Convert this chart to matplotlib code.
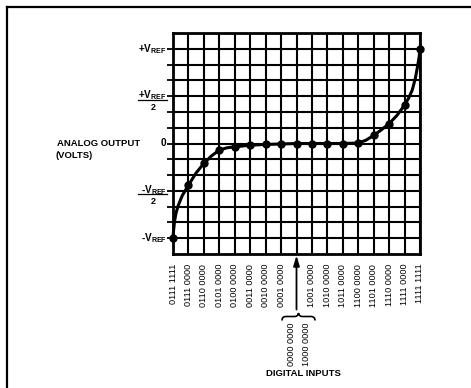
import matplotlib
matplotlib.use("Agg")
import matplotlib.pyplot as plt
from matplotlib.path import Path
from matplotlib.patches import PathPatch
import numpy as np

plt.rcParams['font.family'] = ['Liberation Sans', 'DejaVu Sans']
plt.rcParams['mathtext.fontset'] = 'custom'
plt.rcParams['mathtext.rm'] = 'Liberation Sans:bold'
plt.rcParams['mathtext.it'] = 'Liberation Sans:bold'
plt.rcParams['mathtext.bf'] = 'Liberation Sans:bold'
plt.rcParams['mathtext.default'] = 'bf'

# ---- data ----
codes = ["0111 1111", "0111 0000", "0110 0000", "0101 0000", "0100 0000",
         "0011 0000", "0010 0000", "0001 0000", "", "1001 0000", "1010 0000",
         "1011 0000", "1100 0000", "1101 0000", "1110 0000", "1111 0000", "1111 1111"]
marker_y = [-1.0, -0.44, -0.21, -0.07, -0.035, -0.018, -0.01, -0.005, 0.0,
            0.0, 0.0, 0.0, 0.005, 0.085, 0.21, 0.405, 1.0]
curve_x = [0, 0.03, 0.1, 0.2, 0.35, 0.6, 1, 1.5, 2, 2.5, 3, 3.5, 4, 5, 6, 7, 8,
           9, 10, 11, 12, 12.5, 13, 13.5, 14, 14.5, 15, 15.25, 15.5, 15.7, 15.85, 15.95, 16]
curve_y = [-1.0, -0.93, -0.82, -0.73, -0.65, -0.55, -0.44, -0.31, -0.21, -0.13,
           -0.07, -0.045, -0.035, -0.018, -0.01, -0.005, 0.0, 0.0, 0.0, 0.0, 0.005,
           0.035, 0.085, 0.145, 0.21, 0.295, 0.405, 0.475, 0.565, 0.69, 0.82, 0.92, 1.0]
y_ticks = [-1.0, -0.5, 0.0, 0.5, 1.0]
y_labels = [r"-V$_{REF}$", r"-V$_{REF}$", "0", r"+V$_{REF}$", r"+V$_{REF}$"]
y_denoms = ["", "2", "", "2", ""]
below_codes = ["0000 0000", "1000 0000"]

W, H = 471, 388
fig = plt.figure(figsize=(W / 100, H / 100), dpi=100)
fig.patch.set_facecolor('white')

L, R, T, B = 173, 420, 33, 254
ax = fig.add_axes([L / W, 1 - B / H, (R - L) / W, (B - T) / H])
n = len(codes)
ax.set_xlim(0, n - 1)
ax.set_ylim(-7 / 6, 7 / 6)

ax.set_xticks(range(n))
ax.set_xticklabels(codes, rotation=90, fontsize=6.6, va='top')
ax.set_yticks(np.arange(-6, 7) / 6)
ax.set_yticklabels([])
ax.tick_params(axis='x', length=0, pad=7)
ax.tick_params(axis='y', length=4, width=1.3, direction='out', color='black')
ax.grid(True, color='black', linewidth=1.5)
ax.set_axisbelow(True)
for s in ax.spines.values():
    s.set_linewidth(2.0)

ax.plot(curve_x, curve_y, color='black', linewidth=2.2, solid_capstyle='round',
        solid_joinstyle='round', clip_on=False, zorder=3)
ax.plot(range(n), marker_y, 'o', color='black', markersize=5, clip_on=False, zorder=4)

# overlay in pixel coordinates
ov = fig.add_axes([0, 0, 1, 1])
ov.set_xlim(0, W)
ov.set_ylim(H, 0)
ov.set_facecolor('none')
ov.axis('off')

for yv, lab, den in zip(y_ticks, y_labels, y_denoms):
    ypx = H - ax.transData.transform((0, yv))[1]
    if den:
        ov.text(166.5, ypx - 1, lab, ha='right', va='center', fontsize=7.2, fontweight='bold')
        ov.plot([138, 166.5], [ypx + 3.5, ypx + 3.5], color='black', lw=0.9)
        ov.text(153.5, ypx + 11, den, ha='center', va='center', fontsize=6.5, fontweight='bold')
    else:
        ov.text(166.5, ypx, lab, ha='right', va='center', fontsize=7.2, fontweight='bold')

# arrow at midscale
ax.annotate('', xy=(8, -7 / 6), xycoords='data', xytext=(0, -40), textcoords='offset points',
            arrowprops=dict(arrowstyle='-|>,head_length=0.6,head_width=0.18', color='black',
                            lw=1.3, shrinkA=0, shrinkB=1), annotation_clip=False)

ov.plot([7, 470], [7, 7], color='black', lw=1.6)
ov.plot([7, 7], [7, 388], color='black', lw=1.6)

# overbrace
x0, x1, xm = 282, 315, 298.5
yb, ym, yt = 320.5, 316.5, 313
verts = [(x0, yb), (x0, ym), (x0 + 4, ym),
         (xm - 4, ym), (xm - 0.5, ym), (xm, yt),
         (xm + 0.5, ym), (xm + 4, ym),
         (x1 - 4, ym), (x1, ym), (x1, yb)]
codes_p = [Path.MOVETO, Path.CURVE3, Path.CURVE3,
           Path.LINETO, Path.CURVE3, Path.CURVE3,
           Path.CURVE3, Path.CURVE3,
           Path.LINETO, Path.CURVE3, Path.CURVE3]
ov.add_patch(PathPatch(Path(verts, codes_p), fill=False, lw=1.2, color='black'))

for xp, lab in zip([291.7, 306.7], below_codes):
    ov.text(xp, 322, lab, rotation=90, ha='center', va='top', fontsize=6.6)

ov.text(303, 373, "DIGITAL INPUTS", ha='center', va='center', fontsize=6.8, fontweight='bold')
ov.text(57, 144, "ANALOG OUTPUT", ha='left', va='center', fontsize=6.8, fontweight='bold')
ov.text(56, 156, "(VOLTS)", ha='left', va='center', fontsize=6.8, fontweight='bold')

fig.savefig('out.png', dpi=100, facecolor='white')
